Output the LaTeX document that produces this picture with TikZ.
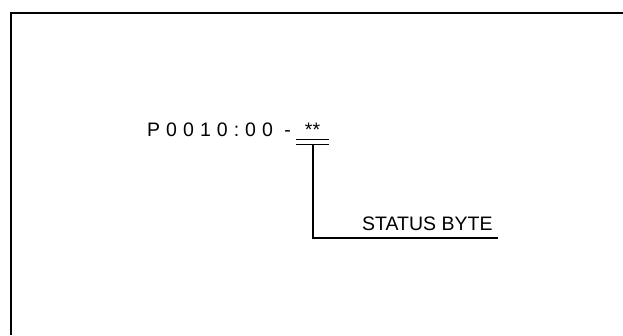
\documentclass[tikz,border=0pt]{standalone}
\usepackage{fontspec}
\setmainfont{Liberation Sans}
\begin{document}
\begin{tikzpicture}[x=1pt,y=-1pt,
  frame/.style={line width=1.6pt},
  leader/.style={line width=1.1pt},
  txt/.style={inner sep=0pt,font=\fontsize{19.5}{22}\selectfont}]
\useasboundingbox (0,0) rectangle (623,335);
\draw[frame] (11,335) -- (11,13) -- (623,13);
\node[txt,anchor=base west] (code) at (147,136) {{\addfontfeature{LetterSpace=31}P0010:00 -}\hspace{14pt}**};
\coordinate (bara) at (296,139.5);
\coordinate (barb) at (329,139.5);
\coordinate (barc) at (296,144.5);
\coordinate (bard) at (329,144.5);
\coordinate (top) at (313,144.5);
\coordinate (corner) at (313,238);
\coordinate (lineend) at (498,238);
\node[txt,anchor=base west] (status) at (362,230) {STATUS BYTE};
\draw[leader] (bara) -- (barb);
\draw[leader] (barc) -- (bard);
\draw[leader] (top) -- (corner) -- (lineend);
\end{tikzpicture}
\end{document}
